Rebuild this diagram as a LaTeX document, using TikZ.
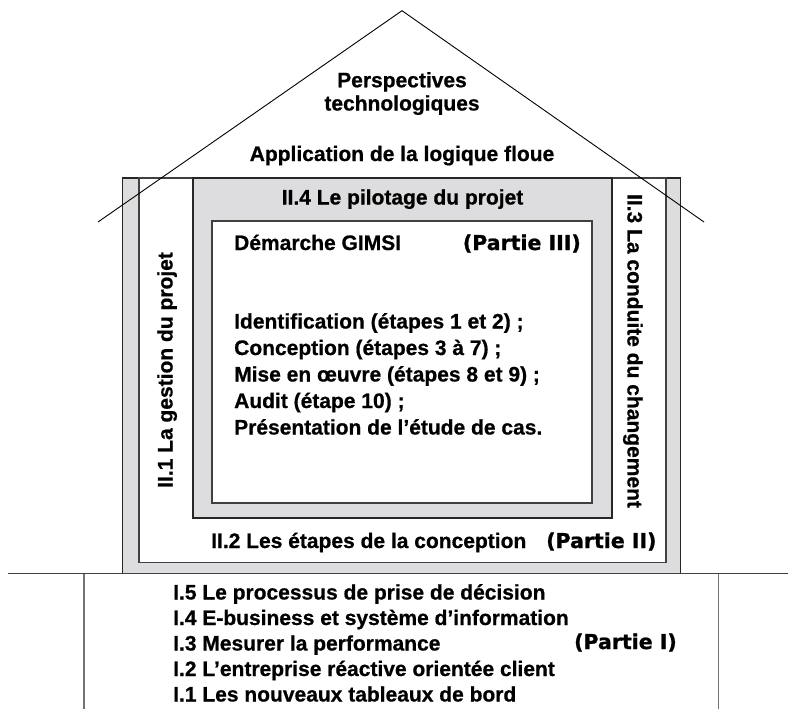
\documentclass[tikz,border=0pt]{standalone}
\usepackage{fontspec}
\setmainfont{Liberation Sans}[BoldFeatures={FakeBold=0.7}]
\newfontfamily\heavyfont{DejaVu Sans Bold}[FakeBold=1]
\usetikzlibrary{matrix,positioning}

\definecolor{wallgray}{RGB}{221,221,223}

\begin{document}
\begin{tikzpicture}[x=1pt, y=-1pt,
  txt/.style={inner sep=0pt, font=\fontsize{21}{25}\selectfont\bfseries},
  part/.style={inner sep=0pt, font=\fontsize{20.5}{25}\heavyfont},
  wall/.style={fill=wallgray, draw=black!85, line width=1.1pt},
  room/.style={fill=white, draw=black!75, line width=1.1pt},
  list/.style={matrix of nodes, inner sep=0pt, anchor=north west,
    nodes={txt, text height=15pt, text depth=5pt, anchor=west}}]
  \useasboundingbox (0,0) rectangle (788,709);

  % the building
  \draw[wall] (122.7,178) rectangle (680.3,573.5);
  \draw[room] (139,178) rectangle (666,562.7);
  \draw[wall] (193,178) rectangle (612,518);
  \draw[room] (212,221) rectangle (592,503);

  % ground and foundation
  \draw[black!75, line width=1.1pt] (8,573.7) -- (788,573.7);
  \draw[black!55, line width=1.2pt] (84,573.7) -- (84,709);
  \draw[black!55, line width=1.2pt] (718.3,573.7) -- (718.3,709);

  % roof
  \coordinate (rl) at (98,222);
  \coordinate (top) at (402,10.7);
  \coordinate (rr) at (704,222);
  \draw[line width=0.9pt] (rl) -- (top) -- (rr);

  \node[txt, anchor=base] (persp) at (402,87.3) {Perspectives};
  \node[txt, anchor=base] (techno) at (402,110.5) {technologiques};
  \node[txt, anchor=base] (floue) at (402,161) {Application de la logique floue};

  % part II and III
  \node[txt, anchor=base] (pilot) at (402.5,204.5) {II.4 Le pilotage du projet};
  \node[txt, anchor=base west] (gimsi) at (234,250) {Démarche GIMSI};
  \node[part, anchor=base east] (p3) at (581,250) {(Partie III)};
  \matrix (steps) [list, row sep=6.5pt] at (234,313.3)
  {
    Identification (étapes 1 et 2) ; \\
    Conception (étapes 3 à 7) ; \\
    Mise en œuvre (étapes 8 et 9) ; \\
    Audit (étape 10) ; \\
    Présentation de l’étude de cas. \\
  };
  \node[txt, rotate=90, anchor=base] (gest) at (172.5,370) {II.1 La gestion du projet};
  \node[txt, rotate=-90, anchor=base] (cond) at (627.5,351) {II.3 La conduite du changement};
  \node[txt, anchor=base west] (etapes) at (211,548) {II.2 Les étapes de la conception};
  \node[part, anchor=base east] (p2) at (656.7,548) {(Partie II)};

  % part I
  \matrix (found) [list, row sep=5.5pt] at (173,584.3)
  {
    I.5 Le processus de prise de décision \\
    I.4 E-business et système d’information \\
    I.3 Mesurer la performance \\
    I.2 L’entreprise réactive orientée client \\
    I.1 Les nouveaux tableaux de bord \\
  };
  \node[part, anchor=base east] (p1) at (677,649) {(Partie I)};
\end{tikzpicture}
\end{document}
